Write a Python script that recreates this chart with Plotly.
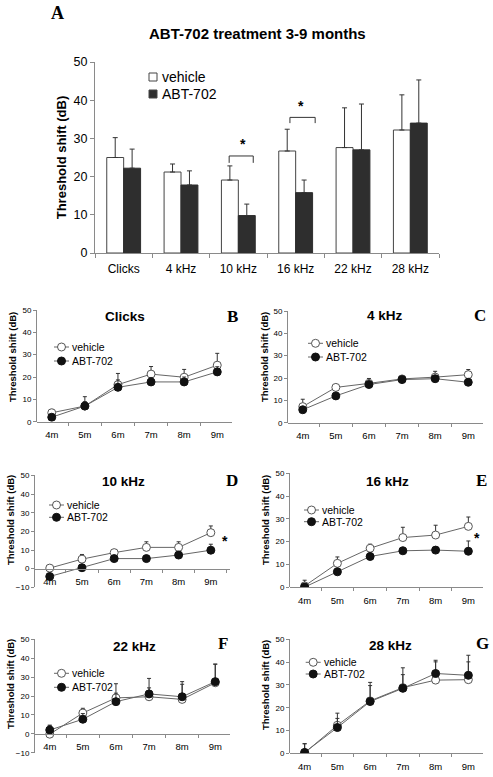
import plotly.graph_objects as go

W, H = 493, 777

# ---------------- data ----------------
freqs = ["Clicks", "4 kHz", "10 kHz", "16 kHz", "22 kHz", "28 kHz"]
months = ["4m", "5m", "6m", "7m", "8m", "9m"]

a_vehicle = [25.0, 21.2, 19.1, 26.7, 27.6, 32.2]
a_vehicle_err = [5.2, 2.1, 3.7, 5.7, 10.4, 9.2]
a_abt = [22.2, 17.8, 9.8, 15.8, 27.0, 34.0]
a_abt_err = [5.0, 3.7, 3.0, 3.3, 12.0, 11.3]

b_vehicle = [4.0, 7.0, 16.6, 21.3, 19.9, 25.3]
b_vehicle_err = [1.5, 4.2, 5.0, 3.4, 3.5, 5.3]
b_abt = [2.0, 7.0, 15.4, 17.8, 17.8, 22.3]
b_abt_err = [1.0, 2.0, 3.3, 2.0, 2.2, 2.3]

c_vehicle = [7.2, 15.8, 17.6, 19.6, 20.4, 21.5]
c_vehicle_err = [3.3, 1.0, 2.2, 0.8, 2.6, 2.3]
c_abt = [5.8, 12.0, 17.1, 19.3, 19.7, 18.1]
c_abt_err = [1.0, 1.0, 1.0, 0.8, 1.0, 1.5]

d_vehicle = [0.3, 5.1, 8.6, 11.4, 11.4, 19.3]
d_vehicle_err = [1.5, 2.5, 1.6, 3.0, 3.0, 3.6]
d_abt = [-4.2, 0.5, 5.4, 5.4, 7.3, 9.9]
d_abt_err = [1.0, 1.0, 1.0, 1.0, 1.0, 3.2]

e_vehicle = [0.6, 10.5, 17.1, 21.8, 22.9, 26.7]
e_vehicle_err = [2.5, 2.8, 1.8, 4.5, 4.3, 4.1]
e_abt = [0.1, 6.8, 13.5, 16.0, 16.3, 15.8]
e_abt_err = [1.0, 1.5, 1.5, 1.5, 1.0, 4.5]

f_vehicle = [-0.2, 11.0, 19.0, 19.6, 18.2, 27.0]
f_vehicle_err = [4.5, 2.5, 7.5, 4.7, 8.0, 9.8]
f_abt = [2.0, 7.7, 17.0, 21.1, 19.6, 27.6]
f_abt_err = [2.6, 3.0, 4.5, 8.2, 8.0, 9.3]

g_vehicle = [0.2, 12.3, 23.0, 28.8, 32.1, 32.3]
g_vehicle_err = [4.0, 5.3, 8.1, 8.7, 8.0, 7.8]
g_abt = [0.4, 11.3, 22.7, 28.5, 35.0, 34.2]
g_abt_err = [3.8, 4.0, 7.0, 6.0, 5.8, 8.8]

# ---------------- styling / layout helpers ----------------
FONT = "Arial, 'Liberation Sans', sans-serif"
SERIF = "'Times New Roman', 'Liberation Serif', serif"
AXC = "#8a8a8a"
DARK = "#2e2e2e"
LINEC = "#666666"


def fx(p):
    return p / W


def fy(p):
    return 1 - p / H


fig = go.Figure()
shapes = []
annotations = []

# ---------------- Panel A ----------------
fig.add_trace(go.Bar(
    x=freqs, y=a_vehicle, name="vehicle", showlegend=False,
    marker=dict(color="white", line=dict(color="#444444", width=1)),
    error_y=dict(type="data", symmetric=False, array=a_vehicle_err,
                 arrayminus=[0] * len(a_vehicle), color="#333333",
                 thickness=1, width=2.5),
    xaxis="x", yaxis="y"))
fig.add_trace(go.Bar(
    x=freqs, y=a_abt, name="ABT-702", showlegend=False,
    marker=dict(color=DARK, line=dict(color=DARK, width=1)),
    error_y=dict(type="data", symmetric=False, array=a_abt_err,
                 arrayminus=[0] * len(a_abt), color="#333333",
                 thickness=1, width=2.5),
    xaxis="x", yaxis="y"))

layout_axes = {}
layout_axes["xaxis"] = dict(
    domain=[fx(95), fx(439)], anchor="y", type="category",
    showline=True, linecolor=AXC, linewidth=1, ticks="outside",
    tickson="boundaries", ticklen=4, tickcolor=AXC, ticklabelstandoff=5,
    tickfont=dict(family=FONT, size=12, color="black"),
    showgrid=False, zeroline=False, automargin=False, fixedrange=True)
layout_axes["yaxis"] = dict(
    domain=[fy(253), fy(62)], anchor="x", range=[0, 50], dtick=10,
    showline=True, linecolor=AXC, linewidth=1, ticks="outside",
    ticklen=4, tickcolor=AXC, showgrid=False, zeroline=False,
    tickfont=dict(family=FONT, size=12.5, color="black"),
    title=dict(text="<b>Threshold shift (dB)</b>", standoff=4,
               font=dict(family=FONT, size=13, color="black")),
    automargin=False, fixedrange=True)

annotations.append(dict(text="<b>ABT-702 treatment 3-9 months</b>",
                        x=fx(257), y=fy(33), xref="paper", yref="paper",
                        xanchor="center", yanchor="middle", showarrow=False,
                        font=dict(family=FONT, size=15, color="black")))
annotations.append(dict(text="<b>A</b>", x=fx(57), y=fy(13), xref="paper",
                        yref="paper", xanchor="center", yanchor="middle",
                        showarrow=False,
                        font=dict(family=SERIF, size=18, color="black")))

# legend A (manual)
leg_a = [("vehicle", "white", 77), ("ABT-702", DARK, 94)]
for label, col, yy in leg_a:
    tx = 160
    shapes.append(dict(type="rect", xref="paper", yref="paper",
                       x0=fx(tx - 11), x1=fx(tx - 3), y0=fy(yy + 4), y1=fy(yy - 4),
                       fillcolor=col, line=dict(color="#444444", width=1)))
    annotations.append(dict(text=label, x=fx(tx), y=fy(yy), xref="paper",
                            yref="paper", xanchor="left", yanchor="middle",
                            showarrow=False,
                            font=dict(family=FONT, size=14, color="black")))

# significance brackets in A (category index coordinates)
brackets = [(2, -0.16, 0.26, 25.4, 23.6, 28.6, 0.08),
            (3, -0.10, 0.34, 35.5, 34.0, 38.6, 0.09)]
for idx, dl, dr, ytop, yend, ystar, dstar in brackets:
    for (xa0, ya0, xa1, ya1) in [(idx + dl, yend, idx + dl, ytop),
                                 (idx + dl, ytop, idx + dr, ytop),
                                 (idx + dr, ytop, idx + dr, yend)]:
        shapes.append(dict(type="line", xref="x", yref="y", x0=xa0, y0=ya0,
                           x1=xa1, y1=ya1, line=dict(color="#333333", width=1)))
    annotations.append(dict(text="<b>*</b>", x=idx + dstar, y=ystar, xref="x",
                            yref="y", showarrow=False, xanchor="center",
                            yanchor="middle",
                            font=dict(family=FONT, size=14, color="black")))

# ---------------- small panels ----------------
panels = [
    dict(title="Clicks", letter="B", veh=b_vehicle, veh_err=b_vehicle_err,
         abt=b_abt, abt_err=b_abt_err),
    dict(title="4 kHz", letter="C", veh=c_vehicle, veh_err=c_vehicle_err,
         abt=c_abt, abt_err=c_abt_err),
    dict(title="10 kHz", letter="D", veh=d_vehicle, veh_err=d_vehicle_err,
         abt=d_abt, abt_err=d_abt_err),
    dict(title="16 kHz", letter="E", veh=e_vehicle, veh_err=e_vehicle_err,
         abt=e_abt, abt_err=e_abt_err),
    dict(title="22 kHz", letter="F", veh=f_vehicle, veh_err=f_vehicle_err,
         abt=f_abt, abt_err=f_abt_err),
    dict(title="28 kHz", letter="G", veh=g_vehicle, veh_err=g_vehicle_err,
         abt=g_abt, abt_err=g_abt_err),
]

# geometry (pixels) for each small panel
geom = [
    dict(x=(37, 232), y=(310, 421.7), yr=(0, 50), tt=(125, 316.7),
         lt=(232, 316), leg=(70, 347, 361), star=None, yt=(12, 357)),
    dict(x=(288, 483), y=(311, 422.7), yr=(0, 50), tt=(385, 315.7),
         lt=(480, 315), leg=(324, 343.3, 357), star=None, yt=(264, 357)),
    dict(x=(35, 230), y=(475.4, 587.3), yr=(-10, 50), tt=(123.3, 481.7),
         lt=(232, 480), leg=(65, 505, 517.3), star=(5.44, 15.0), yt=(10, 520)),
    dict(x=(290, 483), y=(473.2, 587.3), yr=(0, 50), tt=(387.5, 481),
         lt=(481, 480), leg=(320, 510, 521.7), star=(5.25, 21.7), yt=(265, 520)),
    dict(x=(35, 230), y=(639.3, 752.7), yr=(-10, 50), tt=(134, 646.7),
         lt=(222.5, 643.3), leg=(70, 673.3, 687.3), star=None, yt=(10, 684)),
    dict(x=(290, 483), y=(639.3, 753.3), yr=(0, 50), tt=(390, 645),
         lt=(482.5, 643), leg=(321.7, 662.3, 674), star=None, yt=(265, 685)),
]

for i, (p, g) in enumerate(zip(panels, geom)):
    n = i + 2
    xa, ya = f"x{n}", f"y{n}"
    fig.add_trace(go.Scatter(
        x=months, y=p["veh"], mode="lines+markers", name="vehicle",
        showlegend=False, xaxis=xa, yaxis=ya,
        line=dict(color=LINEC, width=1),
        marker=dict(symbol="circle", size=8, color="white",
                    line=dict(color="#555555", width=1)),
        error_y=dict(type="data", symmetric=False, array=p["veh_err"],
                     arrayminus=[0] * 6, color="#333333", thickness=1,
                     width=2)))
    fig.add_trace(go.Scatter(
        x=months, y=p["abt"], mode="lines+markers", name="ABT-702",
        showlegend=False, xaxis=xa, yaxis=ya,
        line=dict(color=LINEC, width=1),
        marker=dict(symbol="circle", size=8, color="#111111",
                    line=dict(color="#111111", width=1)),
        error_y=dict(type="data", symmetric=False, array=p["abt_err"],
                     arrayminus=[0] * 6, color="#333333", thickness=1,
                     width=2)))

    y0d, y1d = fy(g["y"][1]), fy(g["y"][0])
    lo, hi = g["yr"]
    xpos = y0d + (y1d - y0d) * (0 - lo) / (hi - lo)
    layout_axes[f"xaxis{n}"] = dict(
        domain=[fx(g["x"][0]), fx(g["x"][1])], anchor="free", position=xpos,
        type="category", showline=True, linecolor=AXC, linewidth=1,
        ticks="outside", tickson="boundaries", ticklen=3, tickcolor=AXC,
        ticklabelstandoff=4,
        tickfont=dict(family=FONT, size=9.5, color="black"),
        showgrid=False, zeroline=False, automargin=False, fixedrange=True)
    layout_axes[f"yaxis{n}"] = dict(
        domain=[y0d, y1d], anchor=xa, range=[lo, hi], dtick=10,
        showline=True, linecolor=AXC, linewidth=1, ticks="outside",
        ticklen=3, tickcolor=AXC, showgrid=False, zeroline=False,
        tickfont=dict(family=FONT, size=8, color="black"),
        automargin=False, fixedrange=True)

    annotations.append(dict(text="<b>Threshold shift (dB)</b>",
                            x=fx(g["yt"][0]), y=fy(g["yt"][1]), xref="paper",
                            yref="paper", xanchor="center", yanchor="middle",
                            textangle=-90, showarrow=False,
                            font=dict(family=FONT, size=9.5, color="black")))
    annotations.append(dict(text=f"<b>{p['title']}</b>", x=fx(g["tt"][0]),
                            y=fy(g["tt"][1]), xref="paper", yref="paper",
                            xanchor="center", yanchor="middle", showarrow=False,
                            font=dict(family=FONT, size=13.5, color="black")))
    annotations.append(dict(text=f"<b>{p['letter']}</b>", x=fx(g["lt"][0]),
                            y=fy(g["lt"][1]), xref="paper", yref="paper",
                            xanchor="center", yanchor="middle", showarrow=False,
                            font=dict(family=SERIF, size=17, color="black")))

    tx, ly1, ly2 = g["leg"]
    for label, fill, yy in [("vehicle", "white", ly1), ("ABT-702", "#111111", ly2)]:
        shapes.append(dict(type="line", xref="paper", yref="paper",
                           x0=fx(tx - 16), x1=fx(tx - 1), y0=fy(yy), y1=fy(yy),
                           line=dict(color=LINEC, width=1)))
        shapes.append(dict(type="circle", xref="paper", yref="paper",
                           x0=fx(tx - 12.5), x1=fx(tx - 4.5),
                           y0=fy(yy + 4), y1=fy(yy - 4), fillcolor=fill,
                           line=dict(color="#555555" if fill == "white" else fill,
                                     width=1)))
        annotations.append(dict(text=label, x=fx(tx), y=fy(yy), xref="paper",
                                yref="paper", xanchor="left", yanchor="middle",
                                showarrow=False,
                                font=dict(family=FONT, size=10.5, color="black")))
    if g["star"] is not None:
        sx, sy = g["star"]
        annotations.append(dict(text="<b>*</b>", x=sx, y=sy, xref=xa, yref=ya,
                                showarrow=False, xanchor="center",
                                yanchor="middle",
                                font=dict(family=FONT, size=14, color="black")))

fig.update_layout(
    width=W, height=H, autosize=False,
    margin=dict(l=0, r=0, t=0, b=0),
    paper_bgcolor="white", plot_bgcolor="white",
    barmode="group", bargap=0.41, bargroupgap=0,
    showlegend=False,
    font=dict(family=FONT, color="black"),
    shapes=shapes, annotations=annotations,
    **layout_axes)

fig.write_html(
    "out.html",
    config={"displayModeBar": False, "staticPlot": True},
    post_script="document.body.style.margin='0';"
                "document.body.style.padding='0';"
                "document.body.style.overflow='hidden';")
